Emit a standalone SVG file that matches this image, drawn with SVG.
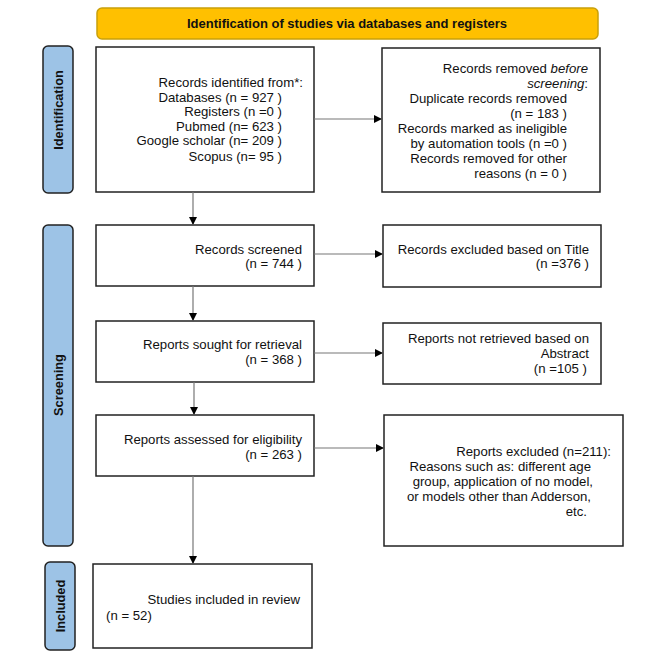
<svg xmlns="http://www.w3.org/2000/svg" width="669" height="662" viewBox="0 0 669 662">
<defs>
<marker id="ah" viewBox="0 0 10 10" refX="10" refY="5" markerWidth="8" markerHeight="8" markerUnits="userSpaceOnUse" orient="auto">
<path d="M0,0 L10,5 L0,10 z" fill="#000"/>
</marker>
<style>
.box{fill:#fff;stroke:#222;stroke-width:1.5}
.side{fill:#9DC3E6;stroke:#222;stroke-width:1.5}
.t{font-family:"Liberation Sans",Arial,sans-serif;font-size:13.2px;fill:#111}
.e{text-anchor:end}
.b{font-weight:bold;text-anchor:middle;font-size:12.8px}
.c{stroke:#777;stroke-width:1.2;fill:none;marker-end:url(#ah)}
</style>
</defs>
<rect width="669" height="662" fill="#fff"/>
<g id="title">
<rect x="97" y="8" width="501" height="31" rx="5" fill="#FFC000" stroke="#C9A00A" stroke-width="1.5"/>
<text class="t b" x="347" y="32" style="font-size:13px" dy="-4.5">Identification of studies via databases and registers</text>
</g>
<g id="side-identification">
<rect class="side" x="43" y="46" width="30" height="147" rx="5"/>
<text class="t b" transform="translate(62.5,110) rotate(-90)">Identification</text>
</g>
<g id="side-screening">
<rect class="side" x="43" y="225" width="30" height="321" rx="5"/>
<text class="t b" transform="translate(62.5,385) rotate(-90)">Screening</text>
</g>
<g id="side-included">
<rect class="side" x="45" y="562" width="30" height="88" rx="5"/>
<text class="t b" transform="translate(64.5,606) rotate(-90)">Included</text>
</g>
<g id="identified">
<rect class="box" x="96" y="47" width="218" height="145"/>
<text class="t e" x="303" y="86.5">Records identified from*:</text>
<text class="t e" x="282" y="101.5">Databases (n = 927 )</text>
<text class="t e" x="282" y="116">Registers (n =0 )</text>
<text class="t e" x="282" y="130.5">Pubmed (n= 623 )</text>
<text class="t e" x="282" y="145">Google scholar (n= 209 )</text>
<text class="t e" x="282" y="160.5">Scopus (n= 95 )</text>
</g>
<g id="removed">
<rect class="box" x="382" y="48" width="218" height="144"/>
<text class="t e" x="588" y="72.5">Records removed <tspan font-style="italic">before</tspan></text>
<text class="t e" x="588" y="87.5"><tspan font-style="italic">screening</tspan>:</text>
<text class="t e" x="567" y="102.5">Duplicate records removed</text>
<text class="t e" x="567" y="117.5">(n = 183 )</text>
<text class="t e" x="567" y="132.5">Records marked as ineligible</text>
<text class="t e" x="567" y="147.5">by automation tools (n =0 )</text>
<text class="t e" x="567" y="162.5">Records removed for other</text>
<text class="t e" x="567" y="177.5">reasons (n = 0 )</text>
</g>
<g id="screened">
<rect class="box" x="96" y="225" width="218" height="61"/>
<text class="t e" x="302" y="253.5">Records screened</text>
<text class="t e" x="302" y="267.5">(n = 744 )</text>
</g>
<g id="excluded-title">
<rect class="box" x="383" y="225" width="218" height="62"/>
<text class="t e" x="589" y="253.5">Records excluded based on Title</text>
<text class="t e" x="589" y="267.5">(n =376 )</text>
</g>
<g id="sought">
<rect class="box" x="96" y="321" width="218" height="61"/>
<text class="t e" x="302" y="348.5">Reports sought for retrieval</text>
<text class="t e" x="302" y="363.5">(n = 368 )</text>
</g>
<g id="not-retrieved">
<rect class="box" x="383" y="323" width="218" height="61"/>
<text class="t e" x="589" y="342.5">Reports not retrieved based on</text>
<text class="t e" x="589" y="357.5">Abstract</text>
<text class="t e" x="587" y="373">(n =105 )</text>
</g>
<g id="assessed">
<rect class="box" x="96" y="415" width="218" height="61"/>
<text class="t e" x="302" y="443.5">Reports assessed for eligibility</text>
<text class="t e" x="302" y="458.5">(n = 263 )</text>
</g>
<g id="reports-excluded">
<rect class="box" x="384" y="415" width="239" height="131"/>
<text class="t e" x="611" y="455.5">Reports excluded (n=211):</text>
<text class="t e" x="591" y="470.5">Reasons such as: different age</text>
<text class="t e" x="593" y="485.5">group, application of no model,</text>
<text class="t e" x="591" y="500.5">or models other than Adderson,</text>
<text class="t e" x="587" y="515.5">etc.</text>
</g>
<g id="included">
<rect class="box" x="93" y="564" width="219" height="84"/>
<text class="t e" x="300" y="603.5">Studies included in review</text>
<text class="t" x="106" y="620">(n = 52)</text>
</g>
<g id="connectors">
<line class="c" x1="314" y1="119" x2="382" y2="119"/>
<line class="c" x1="193" y1="192" x2="193" y2="225"/>
<line class="c" x1="314" y1="254" x2="383" y2="254"/>
<line class="c" x1="193" y1="286" x2="193" y2="321"/>
<line class="c" x1="314" y1="353" x2="383" y2="353"/>
<line class="c" x1="194" y1="382" x2="194" y2="415"/>
<line class="c" x1="314" y1="448" x2="384" y2="448"/>
<line class="c" x1="193" y1="476" x2="193" y2="564"/>
</g>
</svg>
